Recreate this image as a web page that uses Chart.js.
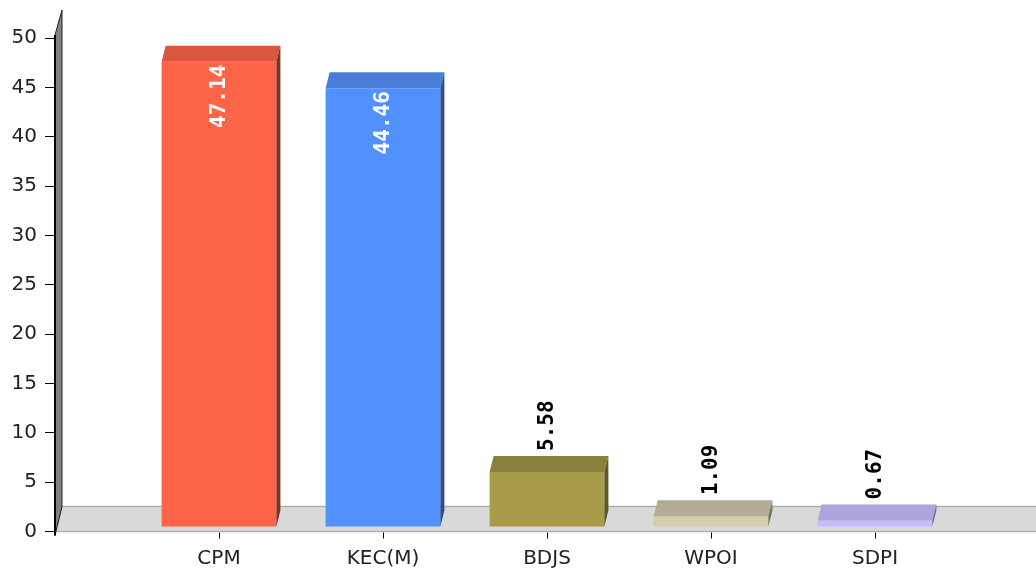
<!DOCTYPE html>
<html lang="en">
<head>
    <meta charset="UTF-8">
    <title>Vote share</title>
    <style>
        body {
            margin: 0;
            padding: 0;
            background-color: #fff;
            overflow: hidden;
        }

        #chartContainer {
            width: 1039px;
            height: 571px;
        }
    </style>
</head>
<body>
    <div id="chartContainer">
        <canvas id="voteChart"></canvas>
    </div>

    <script src="https://cdn.jsdelivr.net/npm/chart.js"></script>
    <script>
        // Data
        const categories = ['CPM', 'KEC(M)', 'BDJS', 'WPOI', 'SDPI'];
        const votes = [47.14, 44.46, 5.58, 1.09, 0.67];
        const yTicks = [0, 5, 10, 15, 20, 25, 30, 35, 40, 45, 50];

        const frontColors = ['#FE6446', '#5090FF', '#A89C4B', '#D2CEAF', '#C7BAFF'];
        const topColors = ['#D9573F', '#4A7DD9', '#8A7F3C', '#B1AC93', '#AFA3DE'];
        const sideColors = ['#7E3222', '#2C4F8F', '#5E5628', '#77735F', '#6F6896'];

        // empty slot before and after the categories, like the original axis
        const labels = [''].concat(categories, ['']);
        const values = [null].concat(votes, [null]);
        const barColors = ['transparent'].concat(frontColors, ['transparent']);

        const depthX = 4, depthY = 16, lift = 4.5;
        const floorX = 7, floorY = 25;
        const labelFont = 'bold 21px "DejaVu Sans Mono"';

        // floor, axis wall and the top / side faces of the bars
        const threeD = {
            id: 'threeD',
            beforeDatasetsDraw(chart) {
                const { ctx, chartArea } = chart;
                const y0 = chart.scales.y.getPixelForValue(0);
                const yTop = chart.scales.y.getPixelForValue(50);
                const left = chartArea.left, right = chartArea.right;

                ctx.save();
                ctx.beginPath();
                ctx.moveTo(left, y0);
                ctx.lineTo(right, y0);
                ctx.lineTo(right + floorX, y0 - floorY);
                ctx.lineTo(left + floorX, y0 - floorY);
                ctx.closePath();
                ctx.fillStyle = '#d9d9d9';
                ctx.fill();
                ctx.strokeStyle = '#b0b0b0';
                ctx.lineWidth = 1.5;
                ctx.stroke();

                // tick marks under the categories
                ctx.beginPath();
                categories.forEach((c, i) => {
                    const x = Math.round(chart.scales.x.getPixelForValue(i + 1)) + 0.5;
                    ctx.moveTo(x, y0 + 1);
                    ctx.lineTo(x, y0 + 7);
                });
                ctx.strokeStyle = '#000';
                ctx.lineWidth = 1;
                ctx.stroke();

                ctx.beginPath();
                ctx.moveTo(left, y0 + 4);
                ctx.lineTo(left, yTop - 3);
                ctx.lineTo(left + floorX, yTop - 3 - floorY);
                ctx.lineTo(left + floorX, y0 - floorY);
                ctx.closePath();
                ctx.fillStyle = '#808080';
                ctx.fill();
                ctx.strokeStyle = '#222';
                ctx.lineWidth = 1;
                ctx.stroke();

                ctx.beginPath();
                ctx.moveTo(left, y0 + 4);
                ctx.lineTo(left, yTop - 3);
                ctx.strokeStyle = '#000';
                ctx.lineWidth = 2;
                ctx.stroke();
                ctx.restore();

                ctx.save();
                ctx.translate(0, -lift);
            },
            afterDatasetsDraw(chart) {
                const ctx = chart.ctx;
                const meta = chart.getDatasetMeta(0);
                meta.data.forEach((bar, i) => {
                    if (values[i] == null) return;
                    const p = bar.getProps(['x', 'y', 'base', 'width'], true);
                    const l = p.x - p.width / 2, r = p.x + p.width / 2;

                    ctx.beginPath();
                    ctx.moveTo(l, p.y);
                    ctx.lineTo(r, p.y);
                    ctx.lineTo(r + depthX, p.y - depthY);
                    ctx.lineTo(l + depthX, p.y - depthY);
                    ctx.closePath();
                    ctx.fillStyle = topColors[i - 1];
                    ctx.fill();

                    ctx.beginPath();
                    ctx.moveTo(r, p.y);
                    ctx.lineTo(r + depthX, p.y - depthY);
                    ctx.lineTo(r + depthX, p.base - depthY);
                    ctx.lineTo(r, p.base);
                    ctx.closePath();
                    ctx.fillStyle = sideColors[i - 1];
                    ctx.fill();
                });
                ctx.restore();
            },
            afterDraw(chart) {
                const ctx = chart.ctx;
                const meta = chart.getDatasetMeta(0);
                ctx.save();
                ctx.font = labelFont;
                ctx.textBaseline = 'middle';
                meta.data.forEach((bar, i) => {
                    if (values[i] == null) return;
                    const p = bar.getProps(['x', 'y', 'base'], true);
                    const text = values[i].toFixed(2);
                    const tw = ctx.measureText(text).width;
                    const inside = (p.base - p.y) > tw + 10;
                    ctx.save();
                    if (inside) {
                        ctx.translate(p.x + 1, p.y - lift + 3);
                        ctx.rotate(-Math.PI / 2);
                        ctx.textAlign = 'right';
                        ctx.fillStyle = '#fff';
                    } else {
                        ctx.translate(p.x + 1, p.y - lift - depthY - 5);
                        ctx.rotate(-Math.PI / 2);
                        ctx.textAlign = 'left';
                        ctx.fillStyle = '#000';
                    }
                    ctx.fillText(text, 0, 0);
                    ctx.restore();
                });
                ctx.restore();
            }
        };

        const ctx = document.getElementById('voteChart').getContext('2d');

        new Chart(ctx, {
            type: 'bar',
            data: {
                labels: labels,
                datasets: [{
                    data: values,
                    backgroundColor: barColors,
                    borderWidth: 0,
                    categoryPercentage: 1,
                    barPercentage: 0.70
                }]
            },
            options: {
                responsive: true,
                maintainAspectRatio: false,
                devicePixelRatio: 1,
                animation: false,
                layout: {
                    padding: { top: 38, left: 0, right: 0, bottom: 0 }
                },
                plugins: {
                    legend: { display: false },
                    tooltip: { enabled: false }
                },
                scales: {
                    x: {
                        offset: false,
                        border: { display: false },
                        grid: { display: false },
                        ticks: {
                            autoSkip: false,
                            maxRotation: 0,
                            padding: 7,
                            color: '#222',
                            font: { family: '"DejaVu Sans"', size: 20 }
                        },
                        afterFit: s => {
                            s.height = 39.5;
                            s.paddingLeft = 0;
                            s.paddingRight = 0;
                        }
                    },
                    y: {
                        min: 0,
                        max: 50,
                        border: { display: false },
                        grid: {
                            drawOnChartArea: false,
                            tickLength: 10,
                            color: '#000'
                        },
                        ticks: {
                            padding: 8,
                            color: '#222',
                            font: { family: '"DejaVu Sans"', size: 20 }
                        },
                        afterBuildTicks: s => { s.ticks = yTicks.map(v => ({ value: v })); },
                        afterFit: s => { s.width = 55; }
                    }
                }
            },
            plugins: [threeD]
        });
    </script>
</body>
</html>
